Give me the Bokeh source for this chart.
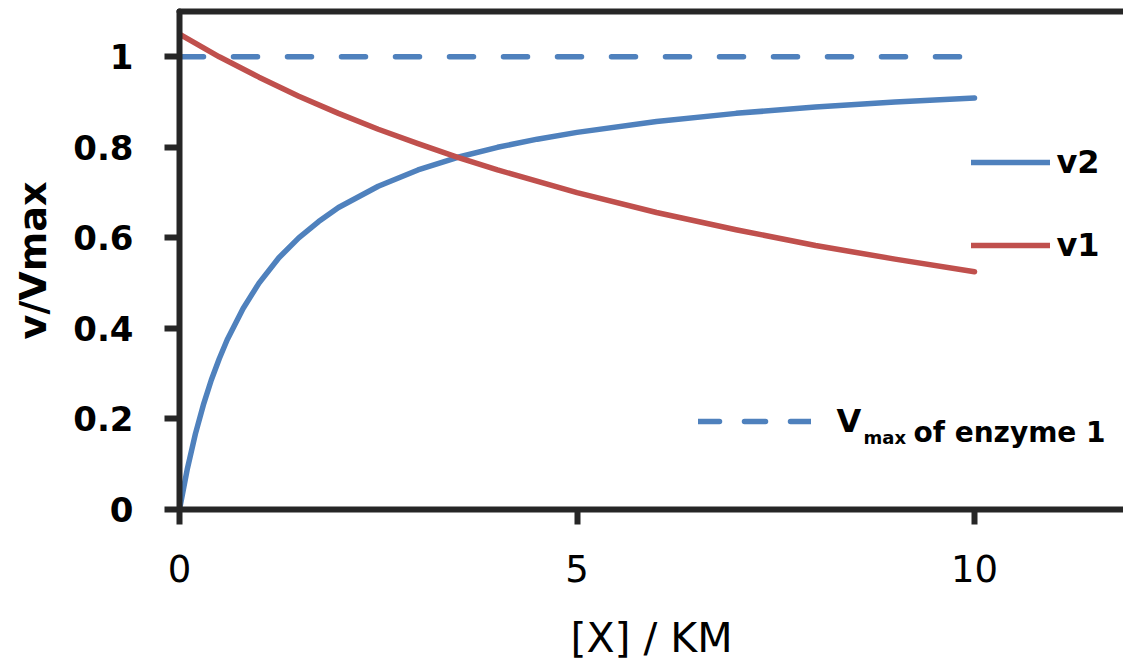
from bokeh.plotting import figure
from bokeh.models import Range1d, FixedTicker, LinearAxis, Legend, LegendItem, Label
from bokeh.embed import file_html
from bokeh.resources import INLINE

# ---- data ----
x_v2 = [0, 0.1, 0.2, 0.3, 0.4, 0.5, 0.6, 0.8, 1.0, 1.25, 1.5, 1.75, 2.0, 2.5,
        3.0, 3.5, 4.0, 4.5, 5.0, 6.0, 7.0, 8.0, 9.0, 10.0]
v2 = [0, 0.091, 0.167, 0.231, 0.286, 0.333, 0.375, 0.444, 0.5, 0.556, 0.6,
      0.636, 0.667, 0.714, 0.75, 0.778, 0.8, 0.818, 0.833, 0.857, 0.875,
      0.889, 0.9, 0.909]
x_v1 = [0, 0.5, 1, 1.5, 2, 2.5, 3, 3.5, 4, 5, 6, 7, 8, 9, 10]
v1 = [1.05, 1.0, 0.955, 0.913, 0.875, 0.84, 0.808, 0.778, 0.75, 0.70, 0.656,
      0.618, 0.583, 0.553, 0.525]
x_vmax = [0, 10]
vmax1 = [1, 1]

x_ticks = [0, 5, 10]
y_ticks = [0, 0.2, 0.4, 0.6, 0.8, 1.0]
y_tick_labels = ["0", "0.2", "0.4", "0.6", "0.8", "1"]
x_label = "[X] / KM"
y_label = "v/Vmax"
legend_v2 = "v2"
legend_v1 = "v1"
legend_vmax = ["V", "max", "of enzyme 1"]

BLUE = "#4F81BD"
RED = "#C0504D"
AX = "#262626"
FONT = "DejaVu Sans"
LW = 5.5

p = figure(width=1123, height=664, x_range=Range1d(0, 11.874), y_range=Range1d(0, 1.1),
           output_backend="svg", toolbar_location=None,
           min_border_left=179, min_border_right=0, min_border_top=11, min_border_bottom=154,
           x_axis_label=x_label, y_axis_label=y_label)
p.outline_line_color = None
p.grid.visible = False
p.background_fill_color = "white"
p.border_fill_color = "white"
# range used only to host the legend sample of the dashed line (kept out of view)
p.extra_y_ranges = {"legend_only": Range1d(2, 3)}

for ax in (p.xaxis[0], p.yaxis[0]):
    ax.axis_line_width = 6
    ax.axis_line_color = AX
    ax.axis_line_cap = "round"
    ax.major_tick_line_width = 6
    ax.major_tick_line_color = AX
    ax.major_tick_in = 0
    ax.major_tick_out = 15
    ax.minor_tick_in = 0
    ax.minor_tick_out = 0
    ax.major_label_text_color = "black"
    ax.axis_label_text_color = "black"
    ax.major_label_text_font = FONT
    ax.axis_label_text_font = FONT

xa = p.xaxis[0]
xa.ticker = FixedTicker(ticks=x_ticks)
xa.major_label_text_font_size = "37px"
xa.major_label_text_font_style = "normal"
xa.major_label_standoff = 30
xa.axis_label_text_font_size = "41px"
xa.axis_label_text_font_style = "normal"
xa.axis_label_standoff = 29

ya = p.yaxis[0]
ya.ticker = FixedTicker(ticks=y_ticks)
ya.major_label_overrides = dict(zip(y_ticks, y_tick_labels))
ya.major_label_text_font_size = "34px"
ya.major_label_text_font_style = "bold"
ya.major_label_standoff = 31
ya.axis_label_text_font_size = "38px"
ya.axis_label_text_font_style = "bold"
ya.axis_label_standoff = 15

top = LinearAxis(ticker=FixedTicker(ticks=[]), axis_line_width=6, axis_line_color=AX,
                 axis_line_cap="round",
                 major_tick_out=0, major_tick_in=0, minor_tick_out=0, minor_tick_in=0,
                 major_label_standoff=0, axis_label_standoff=0,
                 major_label_text_font_size="0px")
p.add_layout(top, "above")

r_vmax = p.line(x_vmax, vmax1, line_color=BLUE, line_width=LW, line_dash="24 30",
                line_cap="round")
r_v2 = p.line(x_v2, v2, line_color=BLUE, line_width=LW, line_cap="round", line_join="round")
r_v1 = p.line(x_v1, v1, line_color=RED, line_width=LW, line_cap="round", line_join="round")
r_leg = p.line(x_vmax, vmax1, y_range_name="legend_only", line_color=BLUE, line_width=LW,
               line_dash="21 25", line_cap="round")


def add_legend(renderer, label, loc, glyph_w, standoff):
    lg = Legend(items=[LegendItem(label=label, renderers=[renderer])], location=loc,
                glyph_width=glyph_w, glyph_height=50, label_height=50,
                label_standoff=standoff, padding=0, margin=0, spacing=0,
                border_line_color=None, background_fill_alpha=0,
                label_text_font=FONT, label_text_font_style="bold",
                label_text_font_size="32px", label_text_color="black")
    p.add_layout(lg, "center")


add_legend(r_v2, legend_v2, (791.5, 322), 79, 7)
add_legend(r_v1, legend_v1, (791.5, 239), 79, 7)
add_legend(r_leg, legend_vmax[0], (518.5, 63), 113, 26)

p.add_layout(Label(x=684, y=72, x_units="screen", y_units="screen", text=legend_vmax[1],
                   text_font=FONT, text_font_style="bold", text_font_size="18px",
                   text_color="black", text_baseline="alphabetic"))
p.add_layout(Label(x=734, y=77, x_units="screen", y_units="screen", text=legend_vmax[2],
                   text_font=FONT, text_font_style="bold", text_font_size="28px",
                   text_color="black", text_baseline="alphabetic"))

open("out.html", "w").write(file_html(p, INLINE))
